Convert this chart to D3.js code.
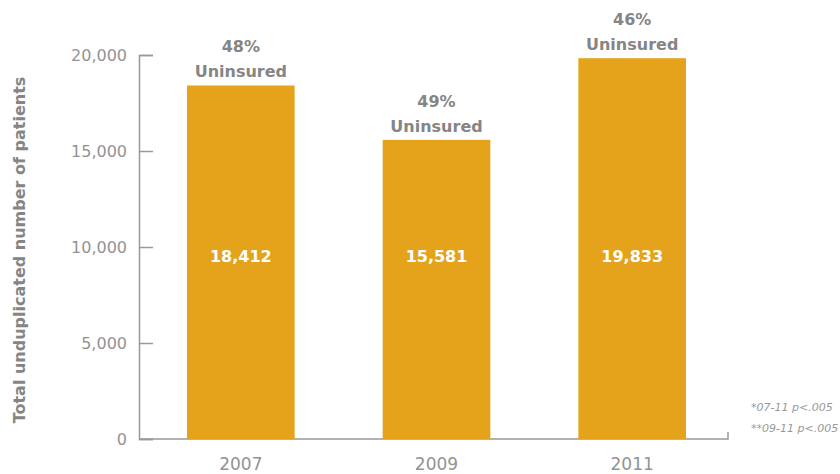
<!DOCTYPE html>
<html>
<head>
<meta charset="utf-8">
<script src="https://cdn.jsdelivr.net/npm/d3@7"></script>
<style>
  body { margin: 0; background: #fff; }
  svg { display: block; font-family: "DejaVu Sans", sans-serif; }
</style>
</head>
<body>
<div id="chart-area"></div>
<script>
let years = ["2007", "2009", "2011"]
let patients = [18412, 15581, 19833]
let uninsured = ["48%", "49%", "46%"]
let yTicks = [0, 5000, 10000, 15000, 20000]
let footnotes = ["*07-11 p<.005", "**09-11 p<.005"]

let width = 840
let height = 474
let gray = "#858585"
let lightGray = "#939393"
let gold = "#E5A31B"

let svg = d3.select("#chart-area").append("svg")
  .attr("width", width)
  .attr("height", height)

let x = d3.scaleBand()
  .domain(years)
  .range([143, 730])
  .paddingInner(0.45)
  .paddingOuter(0.225)

let y = d3.scaleLinear()
  .domain([0, 20000])
  .range([439, 55])

// y axis, ticks point inward
let yAxisCall = d3.axisRight(y)
  .tickValues(yTicks)
  .tickSize(14)
  .tickFormat(d3.format(","))
let yAxisGroup = svg.append("g")
  .attr("transform", "translate(139,0)")
  .call(yAxisCall)
yAxisGroup.select(".domain").attr("stroke", "#999").attr("stroke-width", 1.5)
yAxisGroup.selectAll(".tick line").attr("stroke", "#999").attr("stroke-width", 1.5)
yAxisGroup.selectAll(".tick text")
  .attr("x", -12)
  .attr("text-anchor", "end")
  .attr("fill", lightGray)
  .style("font-size", "16px")
  .style("font-family", "DejaVu Sans, sans-serif")

// x axis baseline with end tick
svg.append("path")
  .attr("d", "M139," + y(0) + "H728V" + (y(0) - 7))
  .attr("fill", "none")
  .attr("stroke", "#999")
  .attr("stroke-width", 1.5)

svg.selectAll(".x-label")
  .data(years)
  .enter().append("text")
    .attr("class", "x-label")
    .attr("x", d => x(d) + x.bandwidth() / 2)
    .attr("y", 470)
    .attr("text-anchor", "middle")
    .attr("fill", lightGray)
    .style("font-size", "17px")
    .text(d => d)

// bars
svg.selectAll("rect.bar")
  .data(patients)
  .enter().append("rect")
    .attr("class", "bar")
    .attr("x", (d, i) => x(years[i]))
    .attr("y", d => y(d))
    .attr("width", x.bandwidth())
    .attr("height", d => y(0) - y(d))
    .attr("fill", gold)

svg.selectAll(".value")
  .data(patients)
  .enter().append("text")
    .attr("class", "value")
    .attr("x", (d, i) => x(years[i]) + x.bandwidth() / 2)
    .attr("y", 262)
    .attr("text-anchor", "middle")
    .attr("fill", "#fff")
    .style("font-size", "16px")
    .style("font-weight", "bold")
    .text(d => d3.format(",")(d))

// uninsured annotations above bars
let notes = svg.selectAll(".note")
  .data(patients)
  .enter().append("text")
    .attr("class", "note")
    .attr("text-anchor", "middle")
    .attr("fill", gray)
    .style("font-size", "16px")
    .style("font-weight", "bold")
notes.append("tspan")
  .attr("x", (d, i) => x(years[i]) + x.bandwidth() / 2)
  .attr("y", d => y(d) - 33)
  .text((d, i) => uninsured[i])
notes.append("tspan")
  .attr("x", (d, i) => x(years[i]) + x.bandwidth() / 2)
  .attr("y", d => y(d) - 8)
  .text("Uninsured")

// y axis title
svg.append("text")
  .attr("transform", "translate(25," + 250 + ") rotate(-90)")
  .attr("text-anchor", "middle")
  .attr("fill", gray)
  .style("font-size", "16px")
  .style("font-weight", "bold")
  .text("Total unduplicated number of patients")

// footnotes
svg.selectAll(".foot")
  .data(footnotes)
  .enter().append("text")
    .attr("class", "foot")
    .attr("x", 751)
    .attr("y", (d, i) => 411 + i * 21)
    .attr("fill", "#999")
    .style("font-size", "11px")
    .style("font-style", "italic")
    .text(d => d)
</script>
</body>
</html>
